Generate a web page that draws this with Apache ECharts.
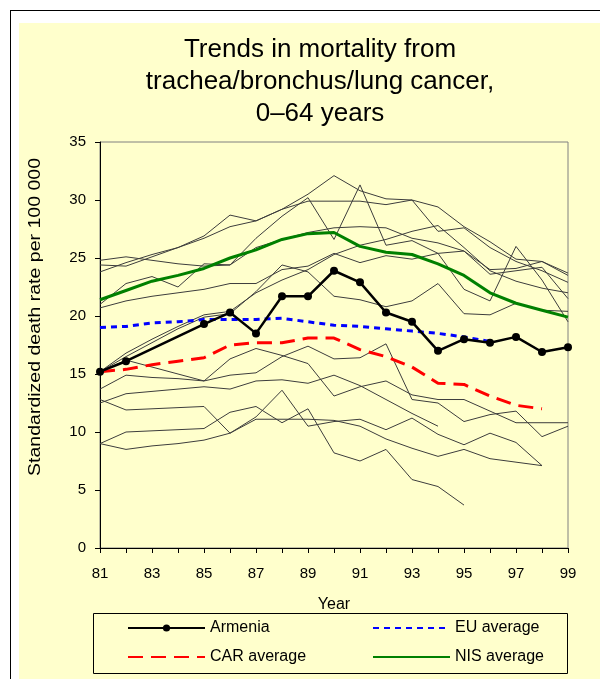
<!DOCTYPE html>
<html>
<head>
<meta charset="utf-8">
<script src="https://cdn.jsdelivr.net/npm/echarts@6/dist/echarts.min.js"></script>
<style>
  html, body { margin:0; padding:0; background:#ffffff; }
  #frame { position:absolute; left:10px; top:10px; width:620px; height:700px; border:1px solid #000; box-sizing:border-box; }
  #paper { position:absolute; left:19px; top:23px; width:600px; height:680px; background:#FFFFCC; }
  #chart { position:absolute; left:0; top:0; width:600px; height:679px; }
</style>
</head>
<body>
<div id="frame"></div>
<div id="paper"></div>
<div id="chart"></div>
<script>
// ---- data ----
const years = ['81','82','83','84','85','86','87','88','89','90','91','92','93','94','95','96','97','98','99'];

const armenia    = [15.2, 16.1, null, null, 19.3, 20.3, 18.5, 21.7, 21.7, 23.9, 22.9, 20.3, 19.5, 17.0, 18.0, 17.7, 18.2, 16.9, 17.3];
const euAverage  = [19.0, 19.1, 19.4, 19.5, 19.7, 19.7, 19.7, 19.8, 19.5, 19.2, 19.1, 18.9, 18.7, 18.5, 18.2, 17.8, null, null, null];
const carAverage = [15.2, 15.4, 15.8, 16.1, 16.4, 17.5, 17.7, 17.7, 18.1, 18.1, 17.1, 16.5, 15.6, 14.2, 14.1, 13.1, 12.3, 12.0, null];
const nisAverage = [21.4, 22.2, 23.0, 23.5, 24.1, 25.0, 25.7, 26.6, 27.1, 27.2, 26.0, 25.5, 25.3, 24.5, 23.5, 22.0, 21.1, 20.5, 19.9];

// individual NIS countries (unlabelled thin lines)
const countryA = [24.4, 24.3, 25.1, 25.9, 26.9, 28.7, 28.2, 29.2, 30.5, 32.1, 30.8, 30.1, 30.0, 29.4, 27.7, 26.4, 24.9, 24.7, 23.7];
const countryB = [23.8, 24.6, 25.3, 25.9, 26.7, 27.7, 28.2, 29.2, 29.9, 29.9, 29.9, 29.6, 30.0, 27.3, 27.6, 25.9, 24.7, 23.9, 22.9];
const countryC = [21.0, 22.8, 23.4, 22.5, 24.5, 24.4, 26.7, 28.6, 30.2, 26.6, 31.3, 26.1, 26.5, 25.4, 22.3, 21.3, 26.0, 23.1, 19.5];
const countryD = [24.8, 25.1, 24.8, 24.5, 24.3, 24.4, 25.9, 26.6, 27.2, 27.6, 27.7, 27.6, 26.7, 26.3, 25.6, 23.6, 23.9, 24.2, 21.5];
const countryE = [20.7, 21.3, 21.7, 22.0, 22.3, 22.8, 22.8, 24.0, 24.3, 25.4, 24.6, 25.2, 24.9, 25.4, 25.6, 24.0, 24.1, 24.7, 23.5];
const countryF = [15.2, 16.8, 18.0, 19.1, 20.1, 20.4, 22.0, 23.1, 24.0, 25.3, 26.1, 26.6, 27.3, 27.8, 25.9, 23.9, 23.0, 22.4, 22.0];
const countryG = [15.2, 16.5, 17.7, 18.9, 19.9, 20.2, 22.1, 24.4, 23.8, 21.7, 21.4, 20.8, 21.3, 22.8, 20.2, 20.1, 21.1, 20.5, 20.4];
const countryH = [15.2, 16.2, 15.6, 15.0, 14.4, 16.3, 17.2, 16.6, 15.9, 13.1, 13.9, 14.4, 13.2, 12.8, 12.8, 11.8, 10.8, 10.8, 10.8];
const countryI = [13.7, 14.9, 14.7, 14.6, 14.4, 14.9, 15.1, 16.5, 17.4, 16.3, 16.4, 17.6, 12.8, 12.5, 10.9, 11.5, 11.8, 9.6, 10.5];
const countryJ = [12.5, 13.3, 13.5, 13.7, 13.9, 13.7, 14.4, 14.5, 14.2, 14.9, 14.0, 12.8, 11.6, 10.5, null, null, null, null, null];
const countryK = [9.0, 10.0, 10.1, 10.2, 10.3, 11.7, 12.2, 10.8, 12.0, 8.2, 7.5, 8.5, 5.9, 5.3, 3.7, null, null, null, null];
const countryL = [12.8, 11.9, 12.0, 12.1, 12.2, 9.9, 11.3, 13.6, 10.5, 10.9, 11.1, 10.2, 11.2, 9.8, 8.9, 9.9, 9.1, 7.1, null];
const countryM = [9.0, 8.5, 8.8, 9.0, 9.3, 9.9, 11.1, 11.1, 11.1, 11.0, 10.5, 9.4, 8.6, 7.9, 8.5, 7.7, 7.4, 7.1, null];

const countries = [countryA, countryB, countryC, countryD, countryE, countryF, countryG,
                   countryH, countryI, countryJ, countryK, countryL, countryM];

const yTicks = { min: 0, max: 35, step: 5 };
const yAxisTitle = 'Standardized death rate per 100 000';

// ---- chart ----
const FONT = 'Liberation Sans, Arial, Helvetica, sans-serif';
const chart = echarts.init(document.getElementById('chart'), null, { renderer: 'canvas' });

const series = [];
countries.forEach((arr, i) => {
  series.push({
    name: 'country' + i, type: 'line', data: arr, symbol: 'none', silent: true,
    lineStyle: { color: '#3c3c3c', width: 1 }, z: 1, connectNulls: false
  });
});
series.push({
  name: 'EU average', type: 'line', data: euAverage, symbol: 'none', z: 3,
  lineStyle: { color: '#0000FF', width: 3, type: [6, 5] }, itemStyle: { color: '#0000FF' }
});
series.push({
  name: 'CAR average', type: 'line', data: carAverage, symbol: 'none', z: 3,
  lineStyle: { color: '#FF0000', width: 3, type: [15, 8] }, itemStyle: { color: '#FF0000' }
});
series.push({
  name: 'NIS average', type: 'line', data: nisAverage, symbol: 'none', z: 4,
  lineStyle: { color: '#008000', width: 3 }, itemStyle: { color: '#008000' }
});
series.push({
  name: 'Armenia', type: 'line', data: armenia, connectNulls: true, z: 5,
  symbol: 'circle', symbolSize: 8, showSymbol: true,
  lineStyle: { color: '#000000', width: 2.5 }, itemStyle: { color: '#000000' }
});

const legendText = { color: '#000', fontSize: 16, fontFamily: FONT };
const noDot = { color: 'transparent', borderColor: 'transparent', borderWidth: 0 };

chart.setOption({
  animation: false,
  backgroundColor: 'transparent',
  title: {
    text: 'Trends in mortality from\ntrachea/bronchus/lung cancer,\n0–64 years',
    left: 315, top: 29, textAlign: 'center',
    textStyle: { color: '#000', fontSize: 26, fontWeight: 'normal', fontFamily: FONT, lineHeight: 32 }
  },
  grid: {
    left: 100, right: 32, top: 142, bottom: 131,
    show: true, borderColor: '#808080', borderWidth: 1, backgroundColor: 'transparent',
    containLabel: false, outerBoundsMode: 'none'
  },
  xAxis: {
    type: 'category', data: years, boundaryGap: false,
    name: 'Year', nameLocation: 'middle', nameGap: 49,
    nameTextStyle: { color: '#000', fontSize: 16, fontFamily: FONT },
    axisLine: { show: true, onZero: false, lineStyle: { color: '#000', width: 1 } },
    axisTick: { show: true, interval: 0, inside: false, length: 5, lineStyle: { color: '#000' } },
    axisLabel: { interval: 1, margin: 18, color: '#000', fontSize: 15, fontFamily: FONT },
    splitLine: { show: false }
  },
  yAxis: {
    type: 'value', min: yTicks.min, max: yTicks.max, interval: yTicks.step,
    axisLine: { show: true, lineStyle: { color: '#000', width: 1 } },
    axisTick: { show: true, inside: false, length: 5, lineStyle: { color: '#000' } },
    axisLabel: { margin: 14, color: '#000', fontSize: 15, fontFamily: FONT },
    splitLine: { show: false }
  },
  legend: [
    {
      data: [{ name: 'Armenia' }, { name: 'CAR average', itemStyle: noDot }],
      orient: 'vertical', left: 127, top: 620, padding: 0,
      itemWidth: 77, itemHeight: 9, itemGap: 13, textStyle: legendText, selectedMode: false
    },
    {
      data: [{ name: 'EU average', itemStyle: noDot }, { name: 'NIS average', itemStyle: noDot }],
      orient: 'vertical', left: 372, top: 620, padding: 0,
      itemWidth: 77, itemHeight: 9, itemGap: 13, textStyle: legendText, selectedMode: false
    }
  ],
  graphic: [
    {
      type: 'rect', left: 93, top: 613, z: 0,
      shape: { width: 474, height: 60 },
      style: { fill: 'transparent', stroke: '#000', lineWidth: 1 }
    },
    {
      type: 'text', x: 36, y: 317, rotation: Math.PI / 2, scaleX: 1.22, z: 10,
      style: {
        text: yAxisTitle, fill: '#000', font: '16px ' + FONT,
        align: 'center', verticalAlign: 'middle'
      }
    }
  ],
  series: series
});
</script>
</body>
</html>
